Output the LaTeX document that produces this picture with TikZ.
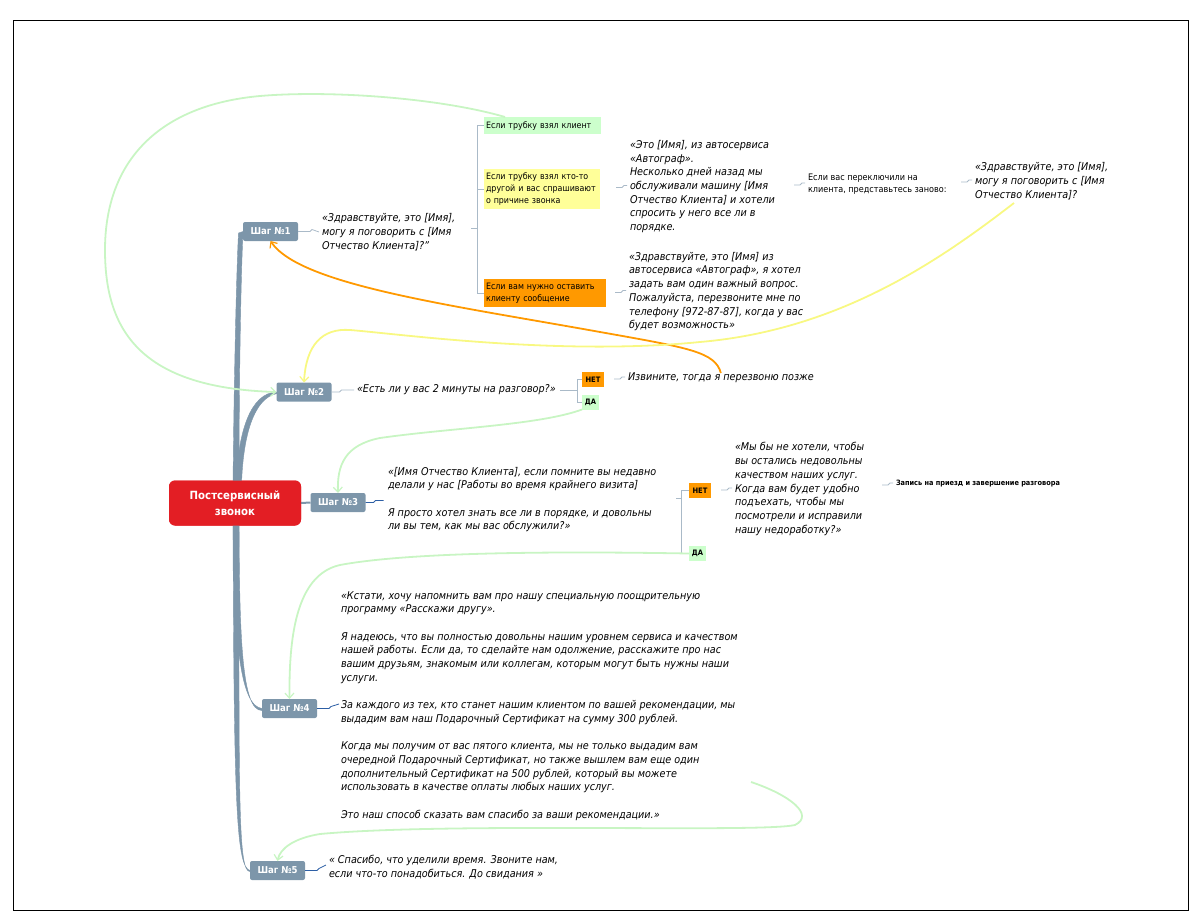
\documentclass[tikz,border=0pt]{standalone}
\usepackage{fontspec}
\setmainfont{DejaVu Sans Condensed}
\usetikzlibrary{arrows.meta}
\definecolor{stepc}{RGB}{125,150,170}
\definecolor{redc}{RGB}{227,30,36}
\definecolor{gbox}{RGB}{204,255,204}
\definecolor{ybox}{RGB}{255,255,153}
\definecolor{obox}{RGB}{255,153,0}
\definecolor{relg}{RGB}{200,245,195}
\definecolor{rely}{RGB}{248,248,130}
\definecolor{linkc}{RGB}{170,186,200}
\definecolor{bluec}{RGB}{45,95,165}
\begin{document}
\begin{tikzpicture}[x=1pt,y=-1pt,
  every node/.style={inner sep=0pt,outer sep=0pt},
  stepbox/.style={fill=stepc,rounded corners=2pt,text=white,font=\bfseries\fontsize{9.5}{11}\selectfont,minimum width=55pt,minimum height=19pt},
  rootbox/.style={fill=redc,rounded corners=6pt,text=white,font=\bfseries\fontsize{11.3}{16}\selectfont,minimum width=132pt,minimum height=45pt,align=center},
  itext/.style={font=\itshape\fontsize{10.7}{13.7}\selectfont,align=left,anchor=west},
  ntext/.style={font=\fontsize{9}{12}\selectfont,align=left,anchor=west},
  cbox/.style={font=\fontsize{8.8}{12}\selectfont,align=left,anchor=west,inner xsep=2pt},
  yn/.style={font=\bfseries\fontsize{7.5}{9}\selectfont,minimum height=15pt},
  trunk/.style={fill=stepc,draw=stepc,line width=0.4pt},
  conn/.style={draw=linkc,line width=0.8pt},
  bconn/.style={draw=bluec,line width=0.8pt},
  rel/.style={line width=1.8pt},
  tip/.style={-{Straight Barb[length=5pt,width=9pt,line width=1.2pt]}}
]
\useasboundingbox (0,0) rectangle (1200,923);
\draw[line width=0.9pt] (13,20) rectangle (1188,910);

% root and steps
\node[rootbox] (root) at (235,503) {Постсервисный\\звонок};
\node[stepbox] (s1) at (270.5,231.5) {Шаг №1};
\node[stepbox] (s2) at (304,392) {Шаг №2};
\node[stepbox] (s3) at (338,502.5) {Шаг №3};
\node[stepbox] (s4) at (289.5,708.5) {Шаг №4};
\node[stepbox] (s5) at (277.5,870.5) {Шаг №5};

% tapered trunks
\path[trunk] (233,485) .. controls (234,380) and (236.5,270) .. (238.5,233) -- (s1.west) -- (243,234)
  .. controls (241,270) and (239,380) .. (239,485) -- cycle;
\path[trunk] (236,485) .. controls (238,430) and (251,393) .. (s2.west) -- (277,393.5)
  .. controls (254,398) and (243,435) .. (241.5,485) -- cycle;
\draw[stepc,line width=2pt] (root.east) -- (s3.west);
\path[trunk] (233,522) .. controls (234,640) and (240,706) .. (s4.west) -- (262,710.5)
  .. controls (242,711) and (239.5,640) .. (239,522) -- cycle;
\path[trunk] (233,522) .. controls (234,800) and (236,867) .. (s5.west) -- (250,871.5)
  .. controls (238,872) and (239,800) .. (239,522) -- cycle;
\node[rootbox] at (root) {Постсервисный\\звонок};

% step 1 branch
\node[itext] (t1) at (322,232) {«Здравствуйте, это [Имя],\\могу я поговорить с [Имя\\Отчество Клиента]?”};
\node[cbox,fill=gbox,text width=113pt,minimum height=17pt] (b1) at (484,125.5) {Если трубку взял клиент};
\node[cbox,fill=ybox,text width=112pt,minimum height=40pt] (b2) at (484,189) {Если трубку взял кто-то\\другой и вас спрашивают\\о причине звонка};
\node[cbox,fill=obox,text width=118pt,minimum height=28pt] (b3) at (484,293) {Если вам нужно оставить\\клиенту сообщение};
\coordinate (br1) at (477,228);
\draw[conn] (s1.east) -- ++(12,0) -- ++(2,-2) -- ([xshift=-3pt]t1.west);
\draw[conn] ([xshift=-6pt]br1) -- (br1);
\draw[conn] (br1 |- b1.west) -- (br1 |- b3.west);
\draw[conn] (br1 |- b1.west) -- (b1.west);
\draw[conn] (br1 |- b2.west) -- (b2.west);
\draw[conn] (br1 |- b3.west) -- (b3.west);

\node[itext] (t2) at (630,186.5) {«Это [Имя], из автосервиса\\«Автограф».\\Несколько дней назад мы\\обслуживали машину [Имя\\Отчество Клиента] и хотели\\спросить у него все ли в\\порядке.};
\node[ntext] (t3) at (808,184) {Если вас переключили на\\клиента, представьтесь заново:};
\node[itext] (t4) at (975,181) {«Здравствуйте, это [Имя],\\могу я поговорить с [Имя\\Отчество Клиента]?};
\node[itext] (t5) at (629,291.5) {«Здравствуйте, это [Имя] из\\автосервиса «Автограф», я хотел\\задать вам один важный вопрос.\\Пожалуйста, перезвоните мне по\\телефону [972-87-87], когда у вас\\будет возможность»};
\draw[conn] ([shift={(-14,1)}]t2.west) -- ++(6,0) -- ++(2,-2) -- ([xshift=-3pt,yshift=1pt]t2.west);
\draw[conn] ([shift={(-14,1)}]t3.west) -- ++(6,0) -- ++(2,-2) -- ([xshift=-3pt,yshift=1pt]t3.west);
\draw[conn] ([shift={(-14,1)}]t4.west) -- ++(6,0) -- ++(2,-2) -- ([xshift=-3pt,yshift=1pt]t4.west);
\draw[conn] ([shift={(-14,1)}]t5.west) -- ++(6,0) -- ++(2,-2) -- ([xshift=-3pt,yshift=1pt]t5.west);

% step 2 branch
\node[itext] (t6) at (357,390) {«Есть ли у вас 2 минуты на разговор?»};
\node[yn,fill=obox,minimum width=22pt] (no2) at (593,379.5) {НЕТ};
\node[yn,fill=gbox,minimum width=17pt] (yes2) at (590.5,402) {ДА};
\node[itext] (izv) at (628,378) {Извините, тогда я перезвоню позже};
\coordinate (br2) at (577,390);
\draw[conn] (s2.east) -- ++(8,0) -- ++(2,-2) -- ([xshift=-3pt]t6.west);
\draw[conn] ([xshift=4pt]t6.east) -- (br2);
\draw[conn] (br2 |- no2.west) -- (br2 |- yes2.west);
\draw[conn] (br2 |- no2.west) -- (no2.west);
\draw[conn] (br2 |- yes2.west) -- (yes2.west);
\draw[conn] ([shift={(-14,1)}]izv.west) -- ++(6,0) -- ++(2,-2) -- ([xshift=-3pt,yshift=1pt]izv.west);

% step 3 branch
\node[itext] (t7) at (388,499.5) {«[Имя Отчество Клиента], если помните вы недавно\\делали у нас [Работы во время крайнего визита]\\[13.7pt]Я просто хотел знать все ли в порядке, и довольны\\ли вы тем, как мы вас обслужили?»};
\node[yn,fill=obox,minimum width=22pt] (no3) at (700,490.5) {НЕТ};
\node[yn,fill=gbox,minimum width=17pt] (yes3) at (697.5,553.5) {ДА};
\node[itext] (t8) at (735,489) {«Мы бы не хотели, чтобы\\вы остались недовольны\\качеством наших услуг.\\Когда вам будет удобно\\подъехать, чтобы мы\\посмотрели и исправили\\нашу недоработку?»};
\node[font=\bfseries\fontsize{7.3}{9}\selectfont,anchor=west] (t9) at (896,484) {Запись на приезд и завершение разговора};
\coordinate (br3) at (681,498);
\draw[bconn] (s3.east) -- ++(8,0) -- ++(2,-2) -- ++(8,0);
\draw[conn] ([xshift=-5pt]br3) -- (br3);
\draw[conn] (br3 |- no3.west) -- (br3 |- yes3.west);
\draw[conn] (br3 |- no3.west) -- (no3.west);
\draw[conn] (br3 |- yes3.west) -- (yes3.west);
\draw[conn] ([shift={(-14,1)}]t8.west) -- ++(6,0) -- ++(2,-2) -- ([xshift=-3pt,yshift=1pt]t8.west);
\draw[conn] ([shift={(-14,1)}]t9.west) -- ++(6,0) -- ++(2,-2) -- ([xshift=-3pt,yshift=1pt]t9.west);

% step 4
\node[itext] (t10) at (341,706) {«Кстати, хочу напомнить вам про нашу специальную поощрительную\\программу «Расскажи другу».\\[13.7pt]Я надеюсь, что вы полностью довольны нашим уровнем сервиса и качеством\\нашей работы. Если да, то сделайте нам одолжение, расскажите про нас\\вашим друзьям, знакомым или коллегам, которым могут быть нужны наши\\услуги.\\[13.7pt]За каждого из тех, кто станет нашим клиентом по вашей рекомендации, мы\\выдадим вам наш Подарочный Сертификат на сумму 300 рублей.\\[13.7pt]Когда мы получим от вас пятого клиента, мы не только выдадим вам\\очередной Подарочный Сертификат, но также вышлем вам еще один\\дополнительный Сертификат на 500 рублей, который вы можете\\использовать в качестве оплаты любых наших услуг.\\[13.7pt]Это наш способ сказать вам спасибо за ваши рекомендации.»};
\draw[bconn] (s4.east) -- ++(12,0) -- ++(2,-2) -- ([xshift=-2pt,yshift=2pt]t10.west);

% step 5
\node[itext] (t11) at (329,867) {« Спасибо, что уделили время. Звоните нам,\\если что-то понадобиться. До свидания »};
\draw[bconn] (s5.east) -- ++(12,0) -- ++(2,-2) -- ([xshift=-3pt,yshift=2pt]t11.west);

% relationships
\coordinate (g1s) at (505,117);
\draw[relg,rel,tip] (g1s) .. controls (440,98) and (330,90) .. (260,96) .. controls (160,105) and (105,160) .. (105,250) .. controls (105,330) and (140,388) .. (s2.west);
\draw[obox,rel,tip] (izv.north) .. controls (715,352) and (690,348) .. (600,332) .. controls (450,305) and (300,285) .. (s1.south);
\coordinate (ys) at (1014,203);
\draw[rely,rel,tip] (ys) .. controls (940,260) and (840,330) .. (700,342) .. controls (560,356) and (400,334) .. (350,330) .. controls (322,328) and (306,345) .. (s2.north);
\draw[relg,rel,tip] (yes2.south west) .. controls (540,425) and (450,428) .. (380,438) .. controls (345,445) and (337,465) .. (s3.north);
\draw[relg,rel,tip] (yes3.west) .. controls (600,552) and (420,550) .. (340,565) .. controls (295,575) and (289,640) .. (s4.north);
\coordinate (g6s) at (751,782);
\draw[relg,rel,tip] (g6s) .. controls (790,795) and (815,815) .. (795,825) .. controls (760,833) and (450,822) .. (320,834) .. controls (295,838) and (280,848) .. (s5.north);
\end{tikzpicture}
\end{document}
